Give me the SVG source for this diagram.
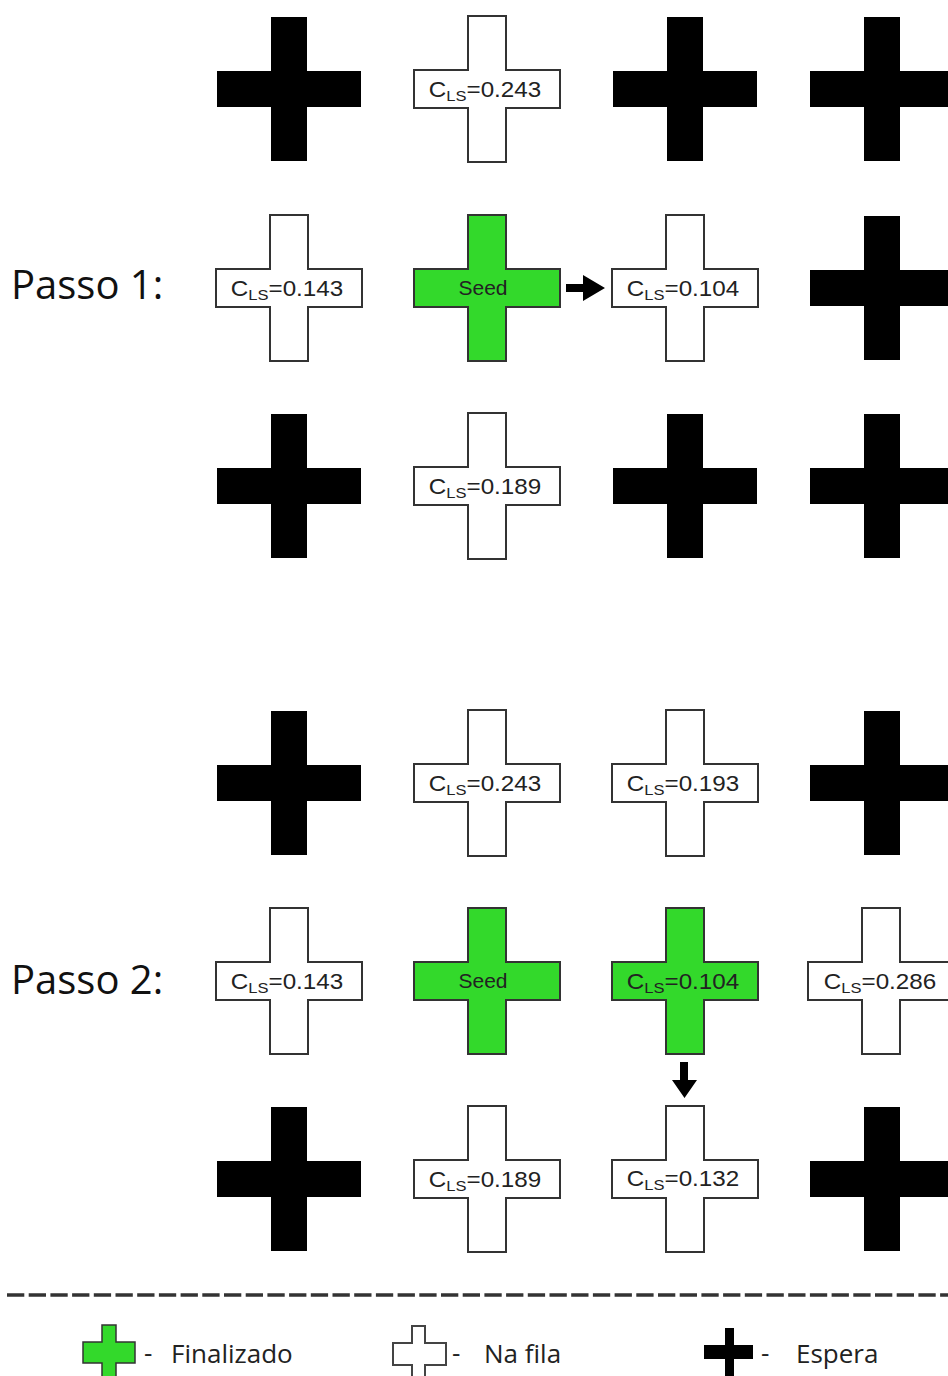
<svg xmlns="http://www.w3.org/2000/svg" xmlns:xlink="http://www.w3.org/1999/xlink" width="948" height="1376" viewBox="0 0 948 1376">
<defs>
<style>
.blk{fill:#000;}
.wht{fill:#fff;stroke:#333;stroke-width:2;}
.grn{fill:#33d92b;stroke:#333;stroke-width:2;}
.lbl{font-family:"Liberation Sans",Arial,sans-serif;font-size:22px;fill:#222;text-anchor:middle;}
.sub{font-size:15px;}
.seed{font-family:"Liberation Sans",Arial,sans-serif;font-size:21px;fill:#222;text-anchor:middle;}
.step{font-family:"Open Sans","Noto Sans",sans-serif;font-size:40px;fill:#111;}
.leg{font-family:"Open Sans","Noto Sans",sans-serif;font-size:26px;fill:#222;}
.arr{fill:#000;}
</style>
<path id="crossB" d="M-18,-72H18V-18H72V18H18V72H-18V18H-72V-18H-18Z"/>
<path id="crossW" d="M-19,-73H19V-19H73V19H19V73H-19V19H-73V-19H-19Z"/>
<filter id="soft" x="-10%" y="-10%" width="120%" height="120%"><feGaussianBlur stdDeviation="0.7"/></filter>
</defs>
<rect width="948" height="1376" fill="#fff"/>

<text class="step" x="11" y="299">Passo 1:</text>
<text class="step" x="11" y="994">Passo 2:</text>

<g id="step1">
<g id="n1-11"><use href="#crossB" class="blk" x="289" y="89" filter="url(#soft)"/></g>
<g id="n1-12"><use href="#crossW" class="wht" x="487" y="89"/><text class="lbl" transform="translate(485,97) scale(1.1,1)"><tspan>C</tspan><tspan class="sub" dy="4">LS</tspan><tspan dy="-4">=0.243</tspan></text></g>
<g id="n1-13"><use href="#crossB" class="blk" x="685" y="89" filter="url(#soft)"/></g>
<g id="n1-14"><use href="#crossB" class="blk" x="882" y="89" filter="url(#soft)"/></g>

<g id="n1-21"><use href="#crossW" class="wht" x="289" y="288"/><text class="lbl" transform="translate(287,296) scale(1.1,1)"><tspan>C</tspan><tspan class="sub" dy="4">LS</tspan><tspan dy="-4">=0.143</tspan></text></g>
<g id="n1-22"><use href="#crossW" class="grn" x="487" y="288"/><text class="seed" x="483" y="295">Seed</text></g>
<g id="n1-23"><use href="#crossW" class="wht" x="685" y="288"/><text class="lbl" transform="translate(683,296) scale(1.1,1)"><tspan>C</tspan><tspan class="sub" dy="4">LS</tspan><tspan dy="-4">=0.104</tspan></text></g>
<g id="n1-24"><use href="#crossB" class="blk" x="882" y="288" filter="url(#soft)"/></g>

<g id="n1-31"><use href="#crossB" class="blk" x="289" y="486" filter="url(#soft)"/></g>
<g id="n1-32"><use href="#crossW" class="wht" x="487" y="486"/><text class="lbl" transform="translate(485,494) scale(1.1,1)"><tspan>C</tspan><tspan class="sub" dy="4">LS</tspan><tspan dy="-4">=0.189</tspan></text></g>
<g id="n1-33"><use href="#crossB" class="blk" x="685" y="486" filter="url(#soft)"/></g>
<g id="n1-34"><use href="#crossB" class="blk" x="882" y="486" filter="url(#soft)"/></g>
</g>

<g id="step2">
<g id="n2-11"><use href="#crossB" class="blk" x="289" y="783" filter="url(#soft)"/></g>
<g id="n2-12"><use href="#crossW" class="wht" x="487" y="783"/><text class="lbl" transform="translate(485,791) scale(1.1,1)"><tspan>C</tspan><tspan class="sub" dy="4">LS</tspan><tspan dy="-4">=0.243</tspan></text></g>
<g id="n2-13"><use href="#crossW" class="wht" x="685" y="783"/><text class="lbl" transform="translate(683,791) scale(1.1,1)"><tspan>C</tspan><tspan class="sub" dy="4">LS</tspan><tspan dy="-4">=0.193</tspan></text></g>
<g id="n2-14"><use href="#crossB" class="blk" x="882" y="783" filter="url(#soft)"/></g>

<g id="n2-21"><use href="#crossW" class="wht" x="289" y="981"/><text class="lbl" transform="translate(287,989) scale(1.1,1)"><tspan>C</tspan><tspan class="sub" dy="4">LS</tspan><tspan dy="-4">=0.143</tspan></text></g>
<g id="n2-22"><use href="#crossW" class="grn" x="487" y="981"/><text class="seed" x="483" y="988">Seed</text></g>
<g id="n2-23"><use href="#crossW" class="grn" x="685" y="981"/><text class="lbl" transform="translate(683,989) scale(1.1,1)"><tspan>C</tspan><tspan class="sub" dy="4">LS</tspan><tspan dy="-4">=0.104</tspan></text></g>
<g id="n2-24"><use href="#crossW" class="wht" x="881" y="981"/><text class="lbl" transform="translate(880,989) scale(1.1,1)"><tspan>C</tspan><tspan class="sub" dy="4">LS</tspan><tspan dy="-4">=0.286</tspan></text></g>

<g id="n2-31"><use href="#crossB" class="blk" x="289" y="1179" filter="url(#soft)"/></g>
<g id="n2-32"><use href="#crossW" class="wht" x="487" y="1179"/><text class="lbl" transform="translate(485,1187) scale(1.1,1)"><tspan>C</tspan><tspan class="sub" dy="4">LS</tspan><tspan dy="-4">=0.189</tspan></text></g>
<g id="n2-33"><use href="#crossW" class="wht" x="685" y="1179"/><text class="lbl" transform="translate(683,1186) scale(1.1,1)"><tspan>C</tspan><tspan class="sub" dy="4">LS</tspan><tspan dy="-4">=0.132</tspan></text></g>
<g id="n2-34"><use href="#crossB" class="blk" x="882" y="1179" filter="url(#soft)"/></g>
</g>

<g id="connectors">
<path class="arr" d="M566,284H583V275L605,288L583,301V292H566Z"/>
<path class="arr" d="M680,1062H688V1080H697L684.5,1098L672,1080H680Z"/>
</g>

<line x1="7" y1="1295" x2="948" y2="1295" stroke="#333" stroke-width="3.5" stroke-dasharray="17.3 4.4"/>

<g id="legend">
<g id="leg-green">
<path d="M102,1325H116V1342H135V1363H116V1380H102V1363H83V1342H102Z" fill="#33d92b" stroke="#333" stroke-width="1.5"/>
<text class="leg" x="144" y="1362">-</text>
<text class="leg" x="171" y="1363">Finalizado</text>
</g>
<g id="leg-white">
<path d="M412,1326H425V1343H446V1365H425V1380H412V1365H393V1343H412Z" fill="#fff" stroke="#444" stroke-width="2"/>
<text class="leg" x="452" y="1362">-</text>
<text class="leg" x="484" y="1363">Na fila</text>
</g>
<g id="leg-black">
<path d="M725,1328H734V1345H753V1359H734V1380H725V1359H704V1345H725Z" fill="#000" filter="url(#soft)"/>
<text class="leg" x="761" y="1362">-</text>
<text class="leg" x="796" y="1363">Espera</text>
</g>
</g>
</svg>
